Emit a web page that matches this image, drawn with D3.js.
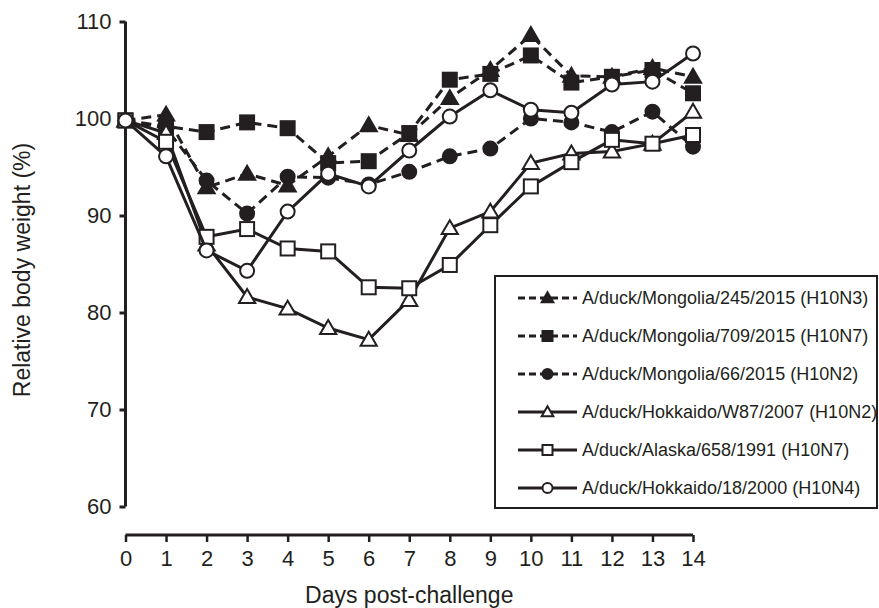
<!DOCTYPE html>
<html>
<head>
<meta charset="utf-8">
<script src="https://cdn.jsdelivr.net/npm/d3@7"></script>
<style>
  body { margin: 0; background: #fff; }
  text { font-family: "Liberation Sans", Arial, sans-serif; fill: #231f20; }
</style>
</head>
<body>
<script>
var W = 879, H = 608;

// data
var days = [0, 1, 2, 3, 4, 5, 6, 7, 8, 9, 10, 11, 12, 13, 14];
var yTicks = [60, 70, 80, 90, 100, 110];
var mongolia245 = [99.8, 100.4, 92.9, 94.3, 93.1, 96.1, 99.3, 98.3, 102.1, 105.0, 108.6, 104.4, 104.3, 105.2, 104.3];
var mongolia709 = [99.8, 99.2, 98.6, 99.6, 99.0, 95.4, 95.6, 98.5, 104.0, 104.6, 106.5, 103.7, 104.3, 105.0, 102.6];
var mongolia66 = [99.8, 99.0, 93.6, 90.2, 94.0, 93.9, 93.2, 94.5, 96.1, 96.9, 100.0, 99.6, 98.6, 100.7, 97.1];
var hokkaidoW87 = [99.8, 98.5, 87.0, 81.6, 80.4, 78.4, 77.2, 81.3, 88.7, 90.4, 95.4, 96.4, 96.6, 97.4, 100.7];
var alaska658 = [99.8, 97.6, 87.8, 88.6, 86.6, 86.3, 82.6, 82.5, 84.9, 89.0, 93.0, 95.5, 97.8, 97.4, 98.3];
var hokkaido18 = [99.8, 96.1, 86.4, 84.3, 90.4, 94.3, 93.0, 96.7, 100.2, 102.9, 100.9, 100.6, 103.5, 103.8, 106.7];

var series = [
  { name: "A/duck/Mongolia/245/2015 (H10N3)", values: mongolia245, shape: "triangle", filled: true, dashed: true },
  { name: "A/duck/Mongolia/709/2015 (H10N7)", values: mongolia709, shape: "square", filled: true, dashed: true },
  { name: "A/duck/Mongolia/66/2015 (H10N2)", values: mongolia66, shape: "circle", filled: true, dashed: true },
  { name: "A/duck/Hokkaido/W87/2007 (H10N2)", values: hokkaidoW87, shape: "triangle", filled: false, dashed: false },
  { name: "A/duck/Alaska/658/1991 (H10N7)", values: alaska658, shape: "square", filled: false, dashed: false },
  { name: "A/duck/Hokkaido/18/2000 (H10N4)", values: hokkaido18, shape: "circle", filled: false, dashed: false }
];

var ink = "#231f20";

var svg = d3.select("body").append("svg")
    .attr("width", W)
    .attr("height", H);

var x = d3.scaleLinear().domain([0, 14]).range([125.5, 693]);
var y = d3.scaleLinear().domain([60, 110]).range([506.5, 21.5]);

// y axis
var yAxis = svg.append("g")
    .attr("transform", "translate(125.5,0)")
    .call(d3.axisLeft(y).tickValues(yTicks).tickSize(6).tickPadding(8));
yAxis.select(".domain").attr("d", "M0," + y(110) + "V" + y(60)).attr("stroke", ink).attr("stroke-width", 3);
yAxis.selectAll(".tick line").attr("stroke", ink).attr("stroke-width", 3);
yAxis.selectAll(".tick text").attr("font-size", 22).attr("fill", ink);

// x axis, offset below the plot
var xAxis = svg.append("g")
    .attr("transform", "translate(0,535)")
    .call(d3.axisBottom(x).tickValues(days).tickSize(7).tickPadding(8));
xAxis.select(".domain").attr("d", "M" + x(0) + ",0H" + x(14)).attr("stroke", ink).attr("stroke-width", 3);
xAxis.selectAll(".tick line").attr("stroke", ink).attr("stroke-width", 2.5);
xAxis.selectAll(".tick text").attr("font-size", 22).attr("fill", ink);

svg.append("text")
    .attr("x", x(7))
    .attr("y", 603)
    .attr("text-anchor", "middle")
    .attr("font-size", 23)
    .text("Days post-challenge");

svg.append("text")
    .attr("transform", "translate(30," + ((y(110) + y(60)) / 2 + 6) + ") rotate(-90)")
    .attr("text-anchor", "middle")
    .attr("font-size", 23)
    .text("Relative body weight (%)");

function drawMarker(g, s, cx, cy, size) {
  var fill = s.filled ? ink : "#fff";
  if (s.shape === "circle") {
    g.append("circle").attr("cx", cx).attr("cy", cy).attr("r", size / 2)
      .attr("fill", fill).attr("stroke", ink).attr("stroke-width", 2);
  } else if (s.shape === "square") {
    g.append("rect").attr("x", cx - size / 2).attr("y", cy - size / 2)
      .attr("width", size).attr("height", size)
      .attr("fill", fill).attr("stroke", ink).attr("stroke-width", 2);
  } else {
    var h = size * 0.95;
    g.append("path")
      .attr("d", "M" + cx + "," + (cy - h * 0.6) + "L" + (cx + size * 0.58) + "," + (cy + h * 0.45) + "L" + (cx - size * 0.58) + "," + (cy + h * 0.45) + "Z")
      .attr("fill", fill).attr("stroke", ink).attr("stroke-width", 2).attr("stroke-linejoin", "miter");
  }
}

var line = d3.line()
    .x(function (d, i) { return x(days[i]); })
    .y(function (d) { return y(d); });

series.forEach(function (s) {
  var g = svg.append("g");
  g.append("path")
    .attr("d", line(s.values))
    .attr("fill", "none")
    .attr("stroke", ink)
    .attr("stroke-width", 3)
    .attr("stroke-dasharray", s.dashed ? "10,6" : null);
  s.values.forEach(function (v, i) {
    drawMarker(g, s, x(days[i]), y(v), 14);
  });
});

// legend
var leg = svg.append("g");
leg.append("rect")
    .attr("x", 495).attr("y", 276)
    .attr("width", 382).attr("height", 232)
    .attr("fill", "#fff").attr("stroke", ink).attr("stroke-width", 2);

series.forEach(function (s, i) {
  var cy = 298 + i * 38;
  var g = leg.append("g");
  g.append("line")
    .attr("x1", 518).attr("x2", 577)
    .attr("y1", cy).attr("y2", cy)
    .attr("stroke", ink).attr("stroke-width", 3)
    .attr("stroke-dasharray", s.dashed ? "7,4" : null);
  drawMarker(g, s, 547.5, cy, 10);
  g.append("text")
    .attr("x", 582).attr("y", cy)
    .attr("dy", "0.35em")
    .attr("font-size", 18)
    .text(s.name);
});
</script>
</body>
</html>
